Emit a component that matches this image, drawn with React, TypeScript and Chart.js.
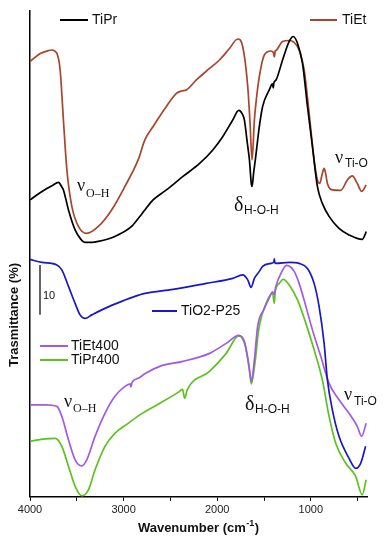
import React, { useEffect, useRef } from "react";
import { Chart, registerables } from "chart.js";

Chart.register(...registerables);

// ---------- DATA (wavenumber in cm^-1, transmittance in arbitrary offset units) ----------
const tiPrWn = [4000, 3872, 3760, 3696, 3660, 3643, 3589, 3518, 3460, 3412, 3340, 3270, 3093, 2915, 2827, 2773, 2685, 2543, 2366, 2188, 2047, 1940, 1834, 1770, 1730, 1710, 1680, 1656, 1635, 1628, 1610, 1593, 1550, 1515, 1444, 1410, 1401, 1395, 1372, 1302, 1231, 1188, 1142, 1089, 1036, 983, 930, 877, 805, 699, 592, 451, 420, 409];
const tiPrT = [59.4, 61.1, 62.3, 62.9, 62.0, 61.4, 57.4, 53.4, 51.6, 50.9, 50.9, 51.1, 52.1, 54.1, 56.1, 57.4, 59.4, 61.4, 64.1, 66.7, 69.4, 72.1, 75.4, 77.3, 76.5, 75.4, 71.0, 67.4, 62.5, 62.1, 65.0, 67.4, 74.1, 78.1, 81.4, 82.6, 81.8, 82.8, 83.4, 87.4, 91.1, 92.1, 90.7, 86.7, 78.1, 70.1, 62.1, 58.7, 56.1, 53.7, 52.4, 51.5, 52.5, 53.1];

const tiEtWn = [4000, 3890, 3800, 3766, 3713, 3678, 3643, 3606, 3553, 3483, 3394, 3270, 3128, 2986, 2845, 2773, 2685, 2543, 2436, 2380, 2330, 2223, 2082, 1976, 1869, 1781, 1728, 1674, 1650, 1628, 1603, 1585, 1550, 1497, 1426, 1400, 1390, 1380, 1372, 1302, 1231, 1178, 1125, 1071, 1018, 965, 930, 904, 880, 858, 840, 823, 770, 681, 610, 557, 504, 457, 409];
const tiEtT = [87.1, 88.7, 89.3, 89.4, 88.7, 85.4, 75.4, 65.4, 58.1, 54.1, 52.7, 54.1, 57.4, 62.1, 67.4, 71.4, 74.1, 78.1, 80.7, 81.2, 81.4, 83.4, 85.7, 87.4, 89.7, 91.6, 90.1, 82.1, 75.0, 67.4, 75.4, 79.0, 84.1, 88.4, 89.2, 88.9, 88.0, 89.2, 89.3, 91.1, 91.3, 90.9, 89.4, 85.4, 76.7, 67.4, 63.4, 62.7, 64.5, 65.7, 64.5, 62.7, 61.4, 61.3, 63.4, 64.2, 62.7, 61.1, 62.4];

const p25Wn = [4000, 3872, 3713, 3660, 3589, 3518, 3465, 3412, 3340, 3199, 3021, 2880, 2773, 2472, 2117, 1834, 1728, 1674, 1638, 1603, 1550, 1515, 1426, 1395, 1390, 1385, 1372, 1231, 1125, 1036, 965, 912, 858, 823, 770, 699, 592, 521, 468, 415];
const p25T = [47.5, 46.9, 46.4, 45.4, 42.1, 38.7, 36.4, 35.7, 36.4, 37.7, 39.1, 40.1, 40.7, 41.5, 42.7, 43.7, 44.4, 43.4, 41.9, 43.7, 45.1, 46.1, 46.7, 47.0, 47.6, 46.9, 46.7, 46.9, 46.7, 45.7, 42.7, 38.1, 30.7, 23.4, 17.4, 12.1, 7.7, 5.7, 6.7, 10.1];

const tiEt400Wn = [4000, 3837, 3713, 3660, 3589, 3518, 3447, 3394, 3305, 3199, 3093, 2986, 2930, 2922, 2910, 2845, 2773, 2614, 2366, 2082, 1904, 1770, 1710, 1664, 1635, 1603, 1568, 1500, 1444, 1408, 1390, 1375, 1319, 1259, 1178, 1125, 1053, 983, 894, 805, 699, 592, 504, 457, 409];
const tiEt400T = [18.4, 18.4, 18.1, 16.1, 11.4, 7.4, 6.2, 7.4, 12.1, 16.7, 20.1, 22.1, 22.6, 22.0, 22.9, 23.7, 24.6, 26.1, 27.1, 28.7, 30.7, 32.3, 31.1, 26.7, 23.1, 27.4, 34.1, 37.5, 39.8, 41.0, 40.5, 42.0, 44.7, 46.3, 45.1, 42.7, 38.1, 33.4, 28.1, 22.7, 19.4, 16.7, 14.1, 12.1, 14.7];

const tiPr400Wn = [4000, 3837, 3731, 3660, 3589, 3518, 3447, 3376, 3305, 3199, 3093, 2951, 2827, 2773, 2614, 2401, 2370, 2348, 2320, 2082, 1904, 1770, 1699, 1657, 1635, 1593, 1557, 1462, 1408, 1390, 1380, 1337, 1295, 1231, 1142, 1053, 965, 877, 805, 734, 627, 521, 451, 409];
const tiPr400T = [11.1, 11.6, 11.7, 10.1, 6.1, 2.1, 0.2, 1.4, 5.4, 10.1, 12.7, 14.7, 16.4, 17.0, 18.7, 21.1, 21.5, 19.7, 21.4, 25.1, 28.7, 32.2, 30.1, 25.4, 22.6, 27.4, 33.4, 39.4, 40.7, 38.7, 41.1, 42.7, 43.5, 42.4, 39.4, 34.7, 29.4, 23.4, 16.1, 10.7, 6.7, 4.1, 0.4, 3.4];

const xTicks = [4000, 3500, 3000, 2500, 2000, 1500, 1000, 500];
const xTickLabels = ["4000", "", "3000", "", "2000", "", "1000", ""];

const seriesNames = ["TiPr", "TiEt", "TiO2-P25", "TiEt400", "TiPr400"];
const seriesColors = ["#000000", "#A8452A", "#1818C8", "#A05AE6", "#5CC21E"];

const xMin = 400;
const xMax = 4000;
const yMin = 0;
const yMax = 97.2;

const toPts = (wn: number[], t: number[]) => wn.map((w, i) => ({ x: w, y: t[i] }));

const SANS = "'Liberation Sans', Arial, sans-serif";
const SERIF = "'Liberation Serif', 'Times New Roman', serif";

const decorPlugin = {
  id: "decor",
  afterDraw(chart: any) {
    const ctx = chart.ctx as CanvasRenderingContext2D;
    ctx.save();

    // legends
    const legends: [number, number, number, number, number][] = [
      // [seriesIndex, lineX1, lineX2, y, textX]
      [0, 60, 88, 20, 92],
      [1, 310, 337, 20, 342],
      [2, 152, 177, 311, 181],
      [3, 40, 68, 346, 71],
      [4, 40, 68, 360, 71],
    ];
    ctx.font = `14px ${SANS}`;
    ctx.textBaseline = "middle";
    ctx.textAlign = "left";
    legends.forEach(([si, x1, x2, y, tx]) => {
      ctx.strokeStyle = seriesColors[si];
      ctx.lineWidth = 2;
      ctx.beginPath();
      ctx.moveTo(x1, y);
      ctx.lineTo(x2, y);
      ctx.stroke();
      ctx.fillStyle = "#111";
      ctx.fillText(seriesNames[si], tx, y + 0.5);
    });

    // scale bar (10 units)
    const ys = chart.scales.y;
    const barTop = 46.4;
    const yTop = ys.getPixelForValue(barTop);
    const yBot = ys.getPixelForValue(barTop - 10);
    ctx.strokeStyle = "#333";
    ctx.lineWidth = 1.5;
    ctx.beginPath();
    ctx.moveTo(40, yTop);
    ctx.lineTo(40, yBot);
    ctx.stroke();
    ctx.fillStyle = "#111";
    ctx.font = `11px ${SANS}`;
    ctx.fillText("10", 43, 296);

    // band annotations
    ctx.textBaseline = "alphabetic";
    const ann: [string, string, number, number, string, string, number, number][] = [
      ["\u03BD", `18px ${SERIF}`, 77, 191, "O\u2013H", `12px ${SERIF}`, 86, 197],
      ["\u03B4", `20px ${SERIF}`, 234, 211, "H-O-H", `12px ${SANS}`, 244, 214],
      ["\u03BD", `18px ${SERIF}`, 335, 163, "Ti-O", `12px ${SANS}`, 345, 167],
      ["\u03BD", `18px ${SERIF}`, 64, 407, "O\u2013H", `12px ${SERIF}`, 73, 412],
      ["\u03B4", `20px ${SERIF}`, 245, 410, "H-O-H", `12px ${SANS}`, 255, 413],
      ["\u03BD", `18px ${SERIF}`, 344, 400, "Ti-O", `12px ${SANS}`, 354, 405],
    ];
    ann.forEach(([g, gf, gx, gy, s, sf, sx, sy]) => {
      ctx.font = gf;
      ctx.fillText(g, gx, gy);
      ctx.font = sf;
      ctx.fillText(s, sx, sy);
    });

    // y axis title
    ctx.save();
    ctx.translate(14, 315);
    ctx.rotate(-Math.PI / 2);
    ctx.font = `bold 13px ${SANS}`;
    ctx.textAlign = "center";
    ctx.textBaseline = "middle";
    ctx.fillText("Trasmittance (%)", 0, 0);
    ctx.restore();

    // x axis title with superscript
    const mainA = "Wavenumber (cm";
    const sup = "-1";
    const mainB = ")";
    ctx.font = `bold 13px ${SANS}`;
    const wA = ctx.measureText(mainA).width;
    const wB = ctx.measureText(mainB).width;
    ctx.font = `bold 9px ${SANS}`;
    const wS = ctx.measureText(sup).width;
    const total = wA + wS + 1 + wB;
    let x = 198.5 - total / 2;
    const base = 532;
    ctx.textAlign = "left";
    ctx.font = `bold 13px ${SANS}`;
    ctx.fillText(mainA, x, base);
    x += wA;
    ctx.font = `bold 9px ${SANS}`;
    ctx.fillText(sup, x + 0.5, base - 6);
    x += wS + 1;
    ctx.font = `bold 13px ${SANS}`;
    ctx.fillText(mainB, x, base);

    ctx.restore();
  },
};

export default function App() {
  const ref = useRef<HTMLCanvasElement | null>(null);

  useEffect(() => {
    document.body.style.margin = "0";
    const canvas = ref.current;
    if (!canvas) return;
    const data = [
      toPts(tiPrWn, tiPrT),
      toPts(tiEtWn, tiEtT),
      toPts(p25Wn, p25T),
      toPts(tiEt400Wn, tiEt400T),
      toPts(tiPr400Wn, tiPr400T),
    ];
    const chart = new Chart(canvas, {
      type: "line",
      data: {
        datasets: data.map((d, i) => ({
          label: seriesNames[i],
          data: d,
          borderColor: seriesColors[i],
          backgroundColor: seriesColors[i],
          borderWidth: 1.7,
          pointRadius: 0,
          fill: false,
          cubicInterpolationMode: "monotone" as const,
        })),
      },
      options: {
        responsive: false,
        animation: false,
        parsing: false,
        layout: { padding: { left: 30, right: 20, top: 11, bottom: 30 } },
        plugins: {
          legend: { display: false },
          tooltip: { enabled: false },
          title: { display: false },
        },
        font: { family: SANS },
        scales: {
          x: {
            type: "linear",
            reverse: true,
            min: xMin,
            max: xMax,
            afterBuildTicks: (axis: any) => {
              axis.ticks = xTicks.map((v) => ({ value: v }));
            },
            ticks: {
              autoSkip: false,
              maxRotation: 0,
              padding: 3,
              color: "#222",
              font: { size: 11, family: SANS },
              callback: (v: any) => {
                const i = xTicks.indexOf(Number(v));
                return i >= 0 ? xTickLabels[i] : "";
              },
            },
            grid: {
              display: true,
              drawOnChartArea: false,
              drawTicks: true,
              tickLength: 4,
              color: "#000",
              lineWidth: 1,
            },
            border: { display: true, color: "#000", width: 1.5 },
          },
          y: {
            type: "linear",
            min: yMin,
            max: yMax,
            ticks: { display: false },
            grid: { display: false, drawTicks: false },
            border: { display: true, color: "#000", width: 1.5 },
          },
        },
      },
      plugins: [decorPlugin],
    } as any);
    return () => chart.destroy();
  }, []);

  return (
    <div style={{ width: 387, height: 550 }}>
      <canvas ref={ref} width={387} height={550} />
    </div>
  );
}
